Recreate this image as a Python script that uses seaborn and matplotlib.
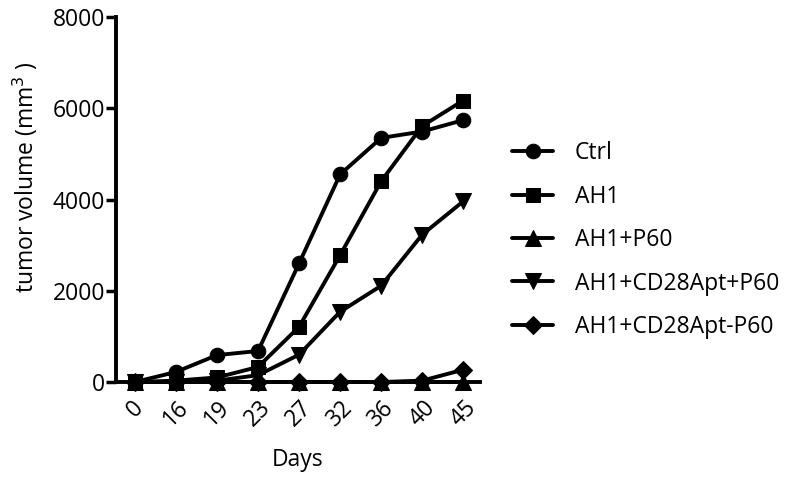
import numpy as np
import pandas as pd
import matplotlib
matplotlib.use("Agg")
import matplotlib.pyplot as plt
import seaborn as sns

days = ["0", "16", "19", "23", "27", "32", "36", "40", "45"]
groups = ["Ctrl", "AH1", "AH1+P60", "AH1+CD28Apt+P60", "AH1+CD28Apt-P60"]
ctrl = [0, 220, 590, 680, 2600, 4550, 5350, 5490, 5740]
ah1 = [0, 30, 100, 330, 1210, 2780, 4400, 5610, 6170]
ah1_p60 = [0, 0, 0, 0, 0, 0, 0, 0, 0]
cd28_p60 = [0, 0, 30, 150, 600, 1540, 2110, 3230, 3960]
cd28_minus = [0, 0, 0, 0, 0, 0, 0, 30, 270]
markers = ["o", "s", "^", "v", "D"]

sns.set_style("ticks")
plt.rcParams["font.family"] = ["Open Sans", "DejaVu Sans"]
plt.rcParams["text.color"] = "black"
plt.rcParams["axes.labelcolor"] = "black"
plt.rcParams["xtick.color"] = "black"
plt.rcParams["ytick.color"] = "black"
plt.rcParams["axes.edgecolor"] = "black"

values = [ctrl, ah1, ah1_p60, cd28_p60, cd28_minus]
df = pd.DataFrame({
    "pos": np.tile(np.arange(len(days)), len(groups)),
    "vol": np.concatenate(values),
    "group": np.repeat(groups, len(days)),
})

fig = plt.figure(figsize=(7.91, 4.78), dpi=100)
ax = fig.add_axes([0.1467, 0.2008, 0.4602, 0.7636])

for g, m in zip(groups, markers):
    sub = df[df["group"] == g]
    ms = 10.5 if m in ("o", "s") else (9.5 if m == "D" else 11.5)
    sns.lineplot(data=sub, x="pos", y="vol", ax=ax, color="black", lw=2.8,
                 marker=m, markersize=ms, markeredgecolor="black", label=g,
                 clip_on=False, zorder=3)

fs = 16.5
ax.set_xlim(-0.46, 8.41)
ax.set_ylim(0, 8000)
ax.set_yticks([0, 2000, 4000, 6000, 8000])
ax.set_xticks(np.arange(len(days)))
ax.set_xticklabels(days, rotation=45, fontsize=fs)
ax.tick_params(axis="y", labelsize=fs, width=2.5, length=7, pad=1)
ax.tick_params(axis="x", length=0, pad=10)
for lab in ax.get_xticklabels():
    lab.set_ha("center")
    lab.set_va("top")
sns.despine(ax=ax)
ax.spines["left"].set_linewidth(2.8)
ax.spines["bottom"].set_linewidth(2.8)
ax.set_xlabel("Days", fontsize=fs, labelpad=12)
ax.set_ylabel("tumor volume (mm$^3$ )", fontsize=fs)
ax.yaxis.set_label_coords(-0.21, 0.56)

leg = ax.legend(loc="center left", bbox_to_anchor=(1.088, 0.389), frameon=False,
                fontsize=fs, handlelength=1.8, labelspacing=0.85, handletextpad=0.95,
                borderpad=0, borderaxespad=0)

fig.savefig("out.png", dpi=100)
